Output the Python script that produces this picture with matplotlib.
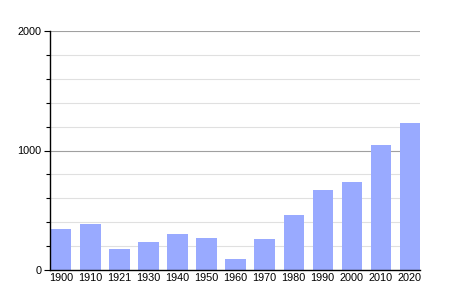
import matplotlib
matplotlib.use("Agg")
import matplotlib.pyplot as plt
import numpy as np

plt.rcParams["font.family"] = ["Liberation Sans", "DejaVu Sans"]

years = ["1900", "1910", "1921", "1930", "1940", "1950", "1960", "1970",
         "1980", "1990", "2000", "2010", "2020"]
population = [342, 384, 175, 234, 300, 267, 92, 259, 459, 668, 735, 1044, 1228]
y_major = [0, 1000, 2000]
y_minor = [200, 400, 600, 800, 1200, 1400, 1600, 1800]

fig = plt.figure(figsize=(4.5, 3), dpi=100)
ax = fig.add_axes([50/450, 30/300, 370/450, 239/300])

x = np.arange(len(years))
for v in y_minor:
    ax.axhline(v, color="#e0e0e0", lw=0.8, zorder=0)
for v in y_major[1:]:
    ax.axhline(v, color="#a0a0a0", lw=0.8, zorder=0)
ax.bar(x, population, width=0.7, color="#99aaff", zorder=2)

ax.set_xlim(-0.39, 12.35)
ax.set_ylim(0, 2000)
ax.set_xticks(x)
ax.set_xticklabels(years, fontsize=7.8)
ax.set_yticks(y_major)
ax.set_yticklabels([str(v) for v in y_major], fontsize=7.8)
ax.set_yticks(y_minor, minor=True)
ax.tick_params(axis="x", length=0, pad=2)
ax.tick_params(axis="y", which="major", length=4, width=0.8, pad=2)
ax.tick_params(axis="y", which="minor", length=3, width=0.8)
for s in ["top", "right"]:
    ax.spines[s].set_visible(False)
ax.spines["left"].set_linewidth(1)
ax.spines["bottom"].set_linewidth(1)

fig.savefig("out.png", dpi=100)
